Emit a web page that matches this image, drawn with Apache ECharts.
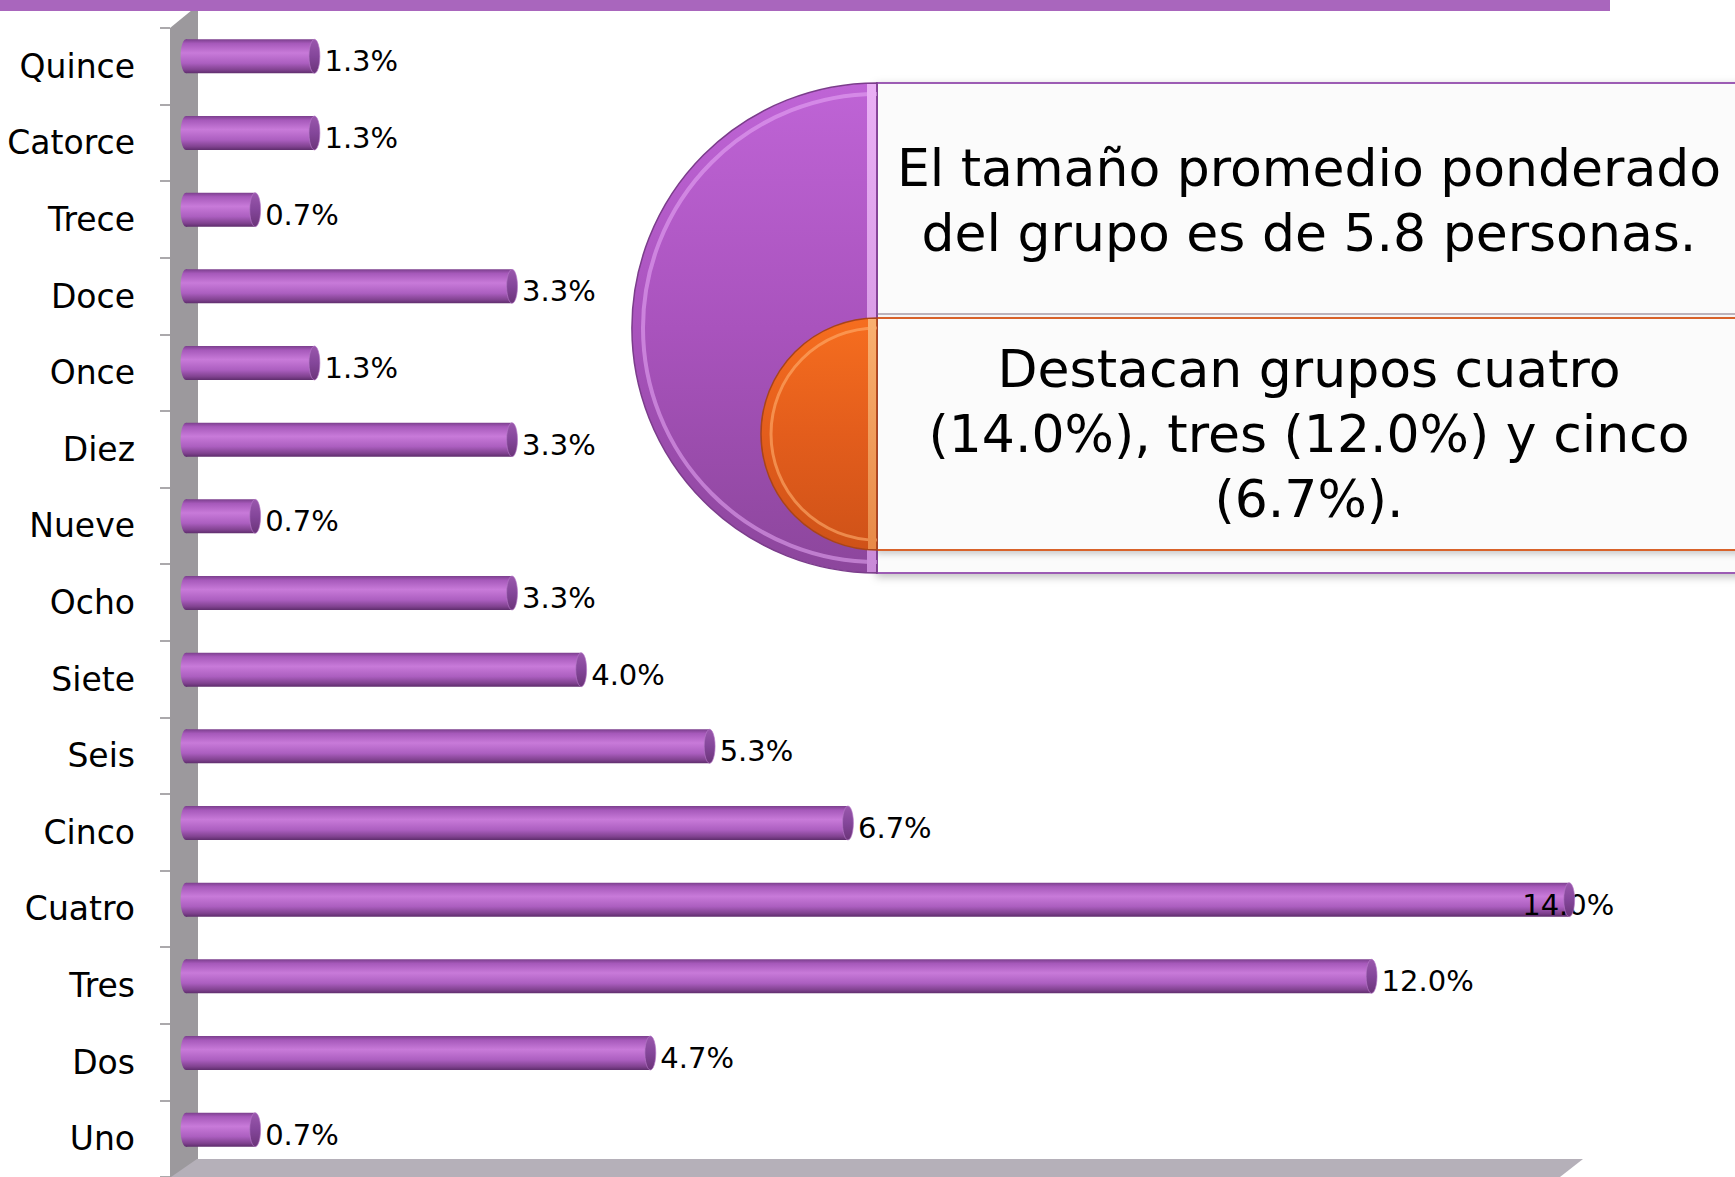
<!DOCTYPE html>
<html>
<head>
<meta charset="utf-8">
<script src="https://cdn.jsdelivr.net/npm/echarts@6/dist/echarts.min.js"></script>
<style>
  html, body { margin: 0; padding: 0; background: #ffffff; }
  #chart { width: 1735px; height: 1177px; }
</style>
</head>
<body>
<div id="chart"></div>
<script>
// Tamaño del grupo: share of groups by number of people (bottom to top)
const CATEGORIES = ['Uno', 'Dos', 'Tres', 'Cuatro', 'Cinco', 'Seis', 'Siete', 'Ocho',
                    'Nueve', 'Diez', 'Once', 'Doce', 'Trece', 'Catorce', 'Quince'];
const PERCENTS   = [0.7, 4.7, 12.0, 14.0, 6.7, 5.3, 4.0, 3.3, 0.7, 3.3, 1.3, 3.3, 0.7, 1.3, 1.3];

const NOTE_TOP    = 'El tamaño promedio ponderado\ndel grupo es de 5.8 personas.';
const NOTE_BOTTOM = 'Destacan grupos cuatro\n(14.0%), tres (12.0%) y cinco\n(6.7%).';

const FONT  = 'DejaVu Sans';
const BAR_H = 34;
const X_MAX = 14.2;

const lg = (stops) => new echarts.graphic.LinearGradient(0, 0, 0, 1,
  stops.map(([offset, color]) => ({ offset, color })));

const BODY = () => lg([[0, '#7b3f8d'], [0.12, '#a659ba'], [0.4, '#c87ad9'],
                       [0.7, '#ac5fc0'], [0.9, '#80428f'], [1, '#5e2d6c']]);
const CAP  = () => lg([[0, '#9a58ad'], [0.5, '#84469a'], [1, '#6b3479']]);

// the 14.0% label sits over the end of its bar, as in the source
const barData = PERCENTS.map((v, i) =>
  CATEGORIES[i] === 'Cuatro' ? { value: v, label: { offset: [-57, 5] } } : v);

const endData = PERCENTS.map((v, i) => [v, i]);

function ellipseAt(p, fill) {
  return {
    type: 'circle', x: p[0], y: p[1], scaleX: 0.32,
    shape: { cx: 0, cy: 0, r: BAR_H / 2 },
    style: fill,
  };
}

const chart = echarts.init(document.getElementById('chart'), null, { renderer: 'svg' });

const PX = 877;               // flat edge of the half discs / left of the note boxes
const half = (cx, cy, r) => ({ cx, cy, r, startAngle: Math.PI / 2, endAngle: Math.PI * 1.5 });

chart.setOption({
  animation: false,
  textStyle: { fontFamily: FONT },
  grid: [
    { left: 186, top: 18, width: X_MAX * 98.8, height: 1150 },
    { left: 170, top: 28, width: X_MAX * 98.8, height: 1150 },
  ],
  xAxis: [
    { gridIndex: 0, type: 'value', min: 0, max: X_MAX, show: false },
    { gridIndex: 1, type: 'value', min: 0, max: X_MAX, show: false },
  ],
  yAxis: [
    { gridIndex: 0, type: 'category', data: CATEGORIES, show: false },
    {
      gridIndex: 1, type: 'category', data: CATEGORIES,
      axisLine: { show: false },
      axisTick: { show: true, length: 10, lineStyle: { color: '#8f8c90', width: 1.5 } },
      axisLabel: { margin: 35, fontSize: 33, color: '#000', fontFamily: FONT },
    },
  ],
  graphic: [
    // 3D wall, floor and top band
    { type: 'polygon', z: 0, shape: { points: [[170, 28], [192, 10], [198, 10], [198, 1177], [170, 1177]] },
      style: { fill: '#9c999d' } },
    { type: 'polygon', z: 0, shape: { points: [[171, 1177], [197, 1159], [1583, 1159], [1560, 1177]] },
      style: { fill: '#b5b0b9' } },
    { type: 'rect', z: 10, shape: { x: 0, y: 0, width: 1610, height: 11 }, style: { fill: '#a966bd' } },

    // note boxes
    { type: 'rect', z: 20, shape: { x: PX, y: 83, width: 900, height: 490 },
      style: { fill: '#fbfbfb', stroke: '#9c5cb4', lineWidth: 2,
               shadowBlur: 8, shadowColor: 'rgba(0,0,0,0.25)', shadowOffsetY: 3 } },
    { type: 'line', z: 21, shape: { x1: PX, y1: 314, x2: 1735, y2: 314 },
      style: { stroke: '#a89ca8', lineWidth: 1.5 } },
    { type: 'rect', z: 21, shape: { x: PX, y: 318, width: 900, height: 232 },
      style: { fill: '#fbfbfb', stroke: '#d8622a', lineWidth: 2,
               shadowBlur: 6, shadowColor: 'rgba(0,0,0,0.2)', shadowOffsetY: 3 } },

    // purple half disc
    { type: 'sector', z: 22, shape: half(PX, 328, 245),
      style: { fill: lg([[0, '#bf64d6'], [0.5, '#a953bd'], [1, '#8c469c']]), stroke: '#7b3d8b', lineWidth: 1.5 } },
    { type: 'arc', z: 23, shape: half(PX, 328, 234),
      style: { stroke: 'rgba(232,170,246,0.55)', lineWidth: 4, fill: 'none' } },
    { type: 'rect', z: 23, shape: { x: PX - 10, y: 84, width: 9, height: 488 },
      style: { fill: lg([[0, '#eab0f5'], [1, '#c98ad8']]) } },

    // orange half disc
    { type: 'sector', z: 24, shape: half(PX, 434, 116),
      style: { fill: lg([[0, '#f66e1f'], [0.5, '#e35d1c'], [1, '#cf5218']]), stroke: '#a8441a', lineWidth: 1.5 } },
    { type: 'arc', z: 25, shape: half(PX, 434, 106),
      style: { stroke: 'rgba(255,175,110,0.6)', lineWidth: 3, fill: 'none' } },
    { type: 'rect', z: 25, shape: { x: PX - 9, y: 319, width: 8, height: 230 },
      style: { fill: lg([[0, '#f9b070'], [1, '#e88a48']]) } },

    // note texts
    { type: 'text', z: 30, x: 1309, y: 200,
      style: { text: NOTE_TOP, fontSize: 52, fontFamily: FONT, fill: '#000',
               align: 'center', verticalAlign: 'middle', lineHeight: 65 } },
    { type: 'text', z: 30, x: 1309, y: 434,
      style: { text: NOTE_BOTTOM, fontSize: 52, fontFamily: FONT, fill: '#000',
               align: 'center', verticalAlign: 'middle', lineHeight: 65 } },
  ],
  series: [
    {
      // rounded far end of each cylinder
      type: 'custom', xAxisIndex: 0, yAxisIndex: 0, z: 1,
      encode: { x: 0, y: 1 },
      data: endData,
      renderItem: (params, api) => ellipseAt(api.coord([0, api.value(1)]), { fill: BODY() }),
    },
    {
      type: 'bar', xAxisIndex: 0, yAxisIndex: 0, z: 2,
      barWidth: BAR_H,
      data: barData,
      itemStyle: { color: BODY() },
      label: {
        show: true, position: 'right', distance: 10, offset: [0, 5],
        fontSize: 29, fontFamily: FONT, color: '#000',
        formatter: (p) => p.value.toFixed(1) + '%',
      },
    },
    {
      // visible end cap
      type: 'custom', xAxisIndex: 0, yAxisIndex: 0, z: 3,
      encode: { x: 0, y: 1 },
      data: endData,
      renderItem: (params, api) => ellipseAt(api.coord([api.value(0), api.value(1)]),
        { fill: CAP(), stroke: '#b477c6', lineWidth: 1, strokeNoScale: true }),
    },
  ],
});

window.addEventListener('resize', () => chart.resize());
</script>
</body>
</html>
